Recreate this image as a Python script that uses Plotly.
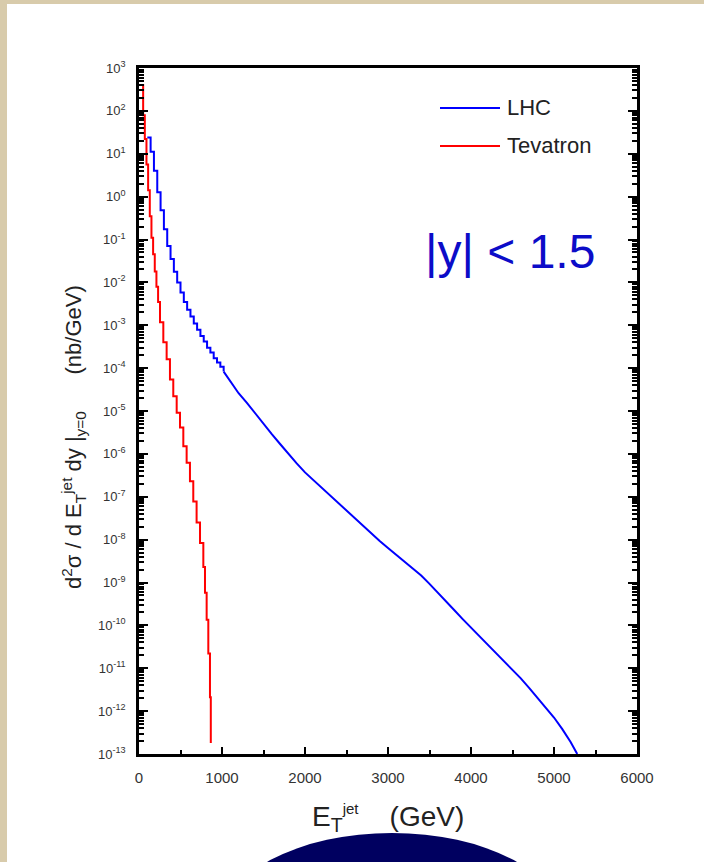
import plotly.graph_objects as go

# ---------------- data ----------------
# LHC, low-E part drawn as a step histogram (bin left edges, GeV ; nb/GeV)
lhc_step_et = [100, 140, 180, 220, 260, 300, 340, 380, 420, 460, 500, 540,
               580, 620, 660, 700, 740, 780, 820, 860, 900, 940, 980, 1020]
lhc_step_val = [24, 11.2, 4.0, 1.26, 0.48, 0.174, 0.071, 0.035, 0.0178, 0.010,
                5.8e-3, 3.5e-3, 2.3e-3, 1.6e-3, 1.1e-3, 7.9e-4, 5.6e-4, 4.2e-4,
                3.0e-4, 2.3e-4, 1.7e-4, 1.35e-4, 1.07e-4, 8.3e-5]
# LHC, high-E part
lhc_tail_et = [1020, 1100, 1200, 1300, 1400, 1500, 1600, 1700, 1800, 1900, 2000,
               2100, 2200, 2300, 2400, 2500, 2600, 2700, 2800, 2900, 3000, 3100,
               3200, 3300, 3400, 3500, 3600, 3700, 3800, 3900, 4000, 4100, 4200,
               4300, 4400, 4500, 4600, 4700, 4800, 4900, 5000, 5100, 5200, 5280]
lhc_tail_val = [8.3e-5, 4.8e-5, 2.6e-5, 1.55e-5, 8.7e-6, 5.0e-6, 2.9e-6, 1.7e-6,
                1.0e-6, 6.0e-7, 3.7e-7, 2.45e-7, 1.66e-7, 1.12e-7, 7.3e-8, 4.8e-8,
                3.2e-8, 2.1e-8, 1.38e-8, 9.3e-9, 6.4e-9, 4.4e-9, 3.1e-9, 2.15e-9,
                1.45e-9, 9.3e-10, 5.9e-10, 3.6e-10, 2.25e-10, 1.4e-10, 8.9e-11,
                5.8e-11, 3.7e-11, 2.35e-11, 1.5e-11, 9.5e-12, 5.8e-12, 3.5e-12,
                2.05e-12, 1.23e-12, 7.1e-13, 3.8e-13, 1.9e-13, 1.0e-13]
# Tevatron step histogram
tev_et = [30, 50, 70, 90, 110, 130, 150, 170, 190, 210, 230, 253, 293, 333, 373,
          413, 454, 494, 534, 574, 614, 654, 694, 735, 775, 795, 815, 835, 855, 865]
tev_val = [400, 79, 22, 5.6, 1.4, 0.35, 0.11, 0.045, 0.018, 7.9e-3, 3.5e-3,
           1.17e-3, 4.0e-4, 1.6e-4, 5.4e-5, 2.2e-5, 9.1e-6, 4.1e-6, 1.5e-6,
           6.2e-7, 2.3e-7, 7.8e-8, 2.5e-8, 8.3e-9, 2.3e-9, 5.8e-10, 1.35e-10,
           2.2e-11, 2.1e-12, 1.8e-13]

x_tick_vals = [0, 1000, 2000, 3000, 4000, 5000, 6000]
x_tick_labels = ["0", "1000", "2000", "3000", "4000", "5000", "6000"]
y_tick_vals = [1e-13, 1e-12, 1e-11, 1e-10, 1e-9, 1e-8, 1e-7, 1e-6, 1e-5, 1e-4,
               1e-3, 1e-2, 1e-1, 1e0, 1e1, 1e2, 1e3]
y_tick_labels = ["10<sup>-13</sup>", "10<sup>-12</sup>", "10<sup>-11</sup>",
                 "10<sup>-10</sup>", "10<sup>-9</sup>", "10<sup>-8</sup>",
                 "10<sup>-7</sup>", "10<sup>-6</sup>", "10<sup>-5</sup>",
                 "10<sup>-4</sup>", "10<sup>-3</sup>", "10<sup>-2</sup>",
                 "10<sup>-1</sup>", "10<sup>0</sup>", "10<sup>1</sup>",
                 "10<sup>2</sup>", "10<sup>3</sup>"]
series_names = ["LHC", "Tevatron"]
series_colors = ["#0000ff", "#ff0000"]

# ---------------- layout geometry ----------------
W, H = 704, 862
PL, PR, PT, PB = 139, 637, 68, 754


def px(x):
    return (x - PL) / (PR - PL)


def py(y):
    return (PB - y) / (PB - PT)


minor_y = [m * v for v in y_tick_vals[:-1] for m in range(2, 10)]

fig = go.Figure()
fig.add_trace(go.Scatter(x=lhc_step_et, y=lhc_step_val, mode="lines",
                         line=dict(color=series_colors[0], width=2, shape="hv"),
                         name=series_names[0], showlegend=False))
fig.add_trace(go.Scatter(x=lhc_tail_et, y=lhc_tail_val, mode="lines",
                         line=dict(color=series_colors[0], width=2),
                         name=series_names[0], showlegend=False))
fig.add_trace(go.Scatter(x=tev_et, y=tev_val, mode="lines",
                         line=dict(color=series_colors[1], width=2, shape="hv"),
                         name=series_names[1], showlegend=False))

shapes = [
    # beige slide border (left and top strips)
    dict(type="rect", xref="paper", yref="paper", x0=px(0), x1=px(7),
         y0=py(H), y1=py(0), fillcolor="#d8cbab", line=dict(width=0), layer="below"),
    dict(type="rect", xref="paper", yref="paper", x0=px(0), x1=px(W),
         y0=py(4), y1=py(0), fillcolor="#d8cbab", line=dict(width=0), layer="below"),
    # navy dome at the bottom of the slide
    dict(type="circle", xref="paper", yref="paper", x0=px(222), x1=px(562),
         y0=py(1013), y1=py(833), fillcolor="#000060", line=dict(width=0)),
    # legend keys
    dict(type="line", xref="paper", yref="paper", x0=px(440), x1=px(500),
         y0=py(108), y1=py(108), line=dict(color=series_colors[0], width=2)),
    dict(type="line", xref="paper", yref="paper", x0=px(440), x1=px(500),
         y0=py(146), y1=py(146), line=dict(color=series_colors[1], width=2)),
]

font = "Liberation Sans, Arial, sans-serif"
annotations = [
    dict(text=series_names[0], xref="paper", yref="paper", x=px(505), y=py(108),
         xanchor="left", yanchor="middle", showarrow=False,
         font=dict(family=font, size=22, color="#222")),
    dict(text=series_names[1], xref="paper", yref="paper", x=px(505), y=py(146),
         xanchor="left", yanchor="middle", showarrow=False,
         font=dict(family=font, size=22, color="#222")),
    dict(text="|y| < 1.5", xref="paper", yref="paper", x=px(510), y=py(252),
         xanchor="center", yanchor="middle", showarrow=False,
         font=dict(family=font, size=48, color="#0c0cc8")),
    dict(text="E<sub>T</sub><sup><span style='font-size:15px'>jet</span></sup>"
              "\u00a0\u00a0\u00a0\u00a0(GeV)",
         xref="paper", yref="paper", x=px(388), y=py(818),
         xanchor="center", yanchor="middle", showarrow=False,
         font=dict(family=font, size=28, color="#222")),
    dict(text="d<sup>2</sup>σ / d E<sub>T</sub><sup>jet</sup> dy |<sub>y=0</sub>"
              "\u00a0\u00a0\u00a0\u00a0\u00a0\u00a0(nb/GeV)",
         xref="paper", yref="paper", x=px(74), y=py(437), textangle=-90,
         xanchor="center", yanchor="middle", showarrow=False,
         font=dict(family=font, size=22, color="#222")),
]

fig.update_layout(
    width=W, height=H,
    margin=dict(l=PL, r=W - PR, t=PT, b=H - PB, pad=0),
    paper_bgcolor="white", plot_bgcolor="white",
    shapes=shapes, annotations=annotations,
    showlegend=False,
)
fig.update_xaxes(
    range=[0, 6000], showgrid=False, zeroline=False,
    showline=True, linecolor="black", linewidth=2.5, mirror=True,
    tickmode="array", tickvals=x_tick_vals, ticktext=x_tick_labels,
    ticks="inside", ticklen=7, tickwidth=2, tickcolor="black",
    ticklabelstandoff=8,
    tickfont=dict(family=font, size=15, color="#333"),
    minor=dict(dtick=500, tick0=0, ticks="inside", ticklen=4, tickwidth=2,
               tickcolor="black"),
)
fig.update_yaxes(
    type="log", range=[-13, 3], showgrid=False, zeroline=False,
    showline=True, linecolor="black", linewidth=2.5, mirror="ticks",
    tickmode="array", tickvals=y_tick_vals, ticktext=y_tick_labels,
    ticks="inside", ticklen=9, tickwidth=2, tickcolor="black",
    ticklabelstandoff=8,
    tickfont=dict(family=font, size=13, color="#333"),
    minor=dict(tickmode="array", tickvals=minor_y, ticks="inside", ticklen=5,
               tickwidth=1.5, tickcolor="black"),
)

fig.write_html("out.html")
